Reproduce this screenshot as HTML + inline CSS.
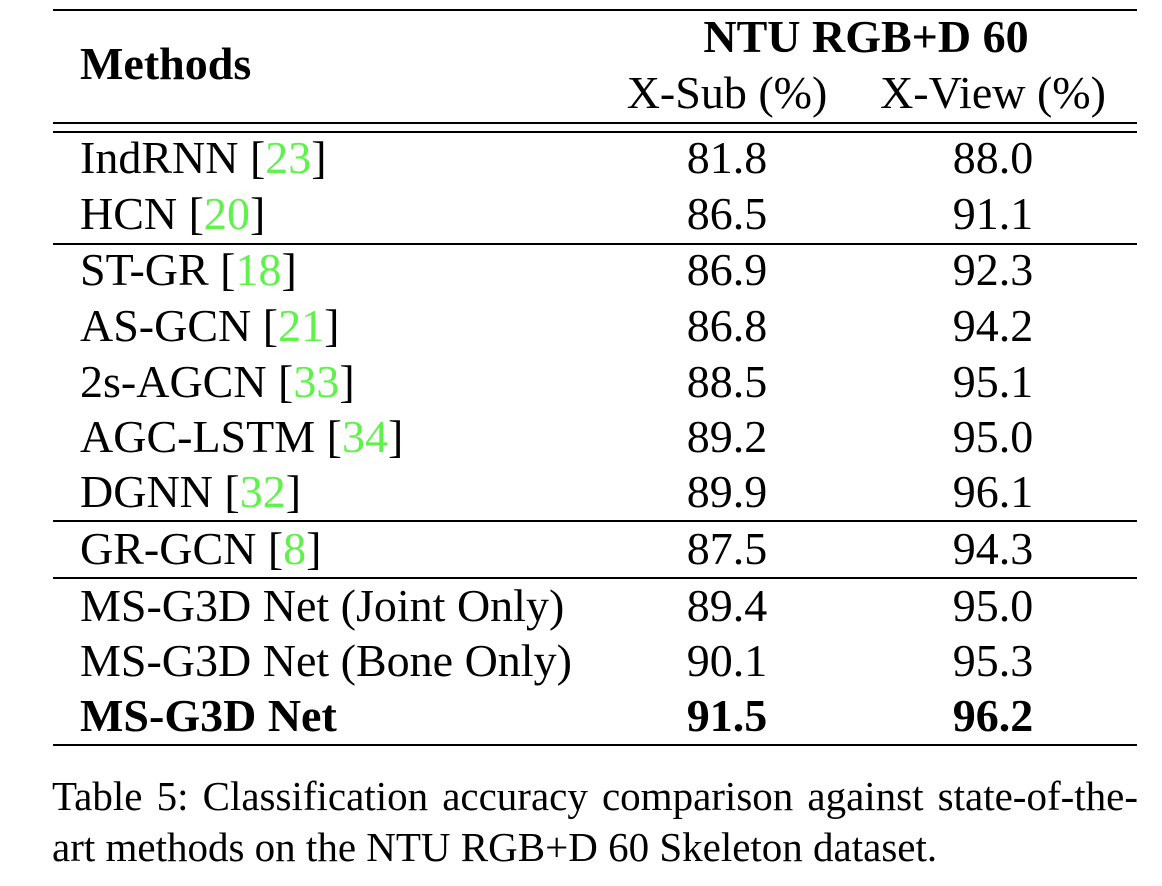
<!DOCTYPE html>
<html><head><style>
body{margin:0;background:#fff;width:1162px;height:886px;position:relative;overflow:hidden;font-family:"Liberation Serif",serif;color:#000}
.l{position:absolute;left:53px;width:1084px;background:#000}
.t{position:absolute;font-size:46px;line-height:1;white-space:nowrap}
.c{transform:translateX(-50%)}
.g{color:#5ef24a}
b{font-weight:bold}
.cap{position:absolute;left:52px;width:1086px;font-size:41px;line-height:1;white-space:nowrap}
</style></head><body>
<div class="l" style="top:9px;height:2px"></div>
<div class="l" style="top:122px;height:2px"></div>
<div class="l" style="top:131px;height:2px"></div>
<div class="l" style="top:243px;height:2px"></div>
<div class="l" style="top:520px;height:2px"></div>
<div class="l" style="top:577px;height:2px"></div>
<div class="l" style="top:744px;height:2px"></div>

<div class="t" style="left:80px;top:41px"><b>Methods</b></div>
<div class="t c" style="left:866px;top:14px"><b>NTU RGB+D 60</b></div>
<div class="t c" style="left:727px;top:70px">X-Sub (%)</div>
<div class="t c" style="left:993px;top:70px">X-View (%)</div>

<div class="t" style="left:80px;top:135px">IndRNN [<span class="g">23</span>]</div>
<div class="t c" style="left:727px;top:135px">81.8</div><div class="t c" style="left:993px;top:135px">88.0</div>
<div class="t" style="left:80px;top:191px">HCN [<span class="g">20</span>]</div>
<div class="t c" style="left:727px;top:191px">86.5</div><div class="t c" style="left:993px;top:191px">91.1</div>
<div class="t" style="left:80px;top:247px">ST-GR [<span class="g">18</span>]</div>
<div class="t c" style="left:727px;top:247px">86.9</div><div class="t c" style="left:993px;top:247px">92.3</div>
<div class="t" style="left:80px;top:303px">AS-GCN [<span class="g">21</span>]</div>
<div class="t c" style="left:727px;top:303px">86.8</div><div class="t c" style="left:993px;top:303px">94.2</div>
<div class="t" style="left:80px;top:359px">2s-AGCN [<span class="g">33</span>]</div>
<div class="t c" style="left:727px;top:359px">88.5</div><div class="t c" style="left:993px;top:359px">95.1</div>
<div class="t" style="left:80px;top:414px">AGC-LSTM [<span class="g">34</span>]</div>
<div class="t c" style="left:727px;top:414px">89.2</div><div class="t c" style="left:993px;top:414px">95.0</div>
<div class="t" style="left:80px;top:469px">DGNN [<span class="g">32</span>]</div>
<div class="t c" style="left:727px;top:469px">89.9</div><div class="t c" style="left:993px;top:469px">96.1</div>
<div class="t" style="left:80px;top:526px">GR-GCN [<span class="g">8</span>]</div>
<div class="t c" style="left:727px;top:526px">87.5</div><div class="t c" style="left:993px;top:526px">94.3</div>
<div class="t" style="left:80px;top:583px">MS-G3D Net (Joint Only)</div>
<div class="t c" style="left:727px;top:583px">89.4</div><div class="t c" style="left:993px;top:583px">95.0</div>
<div class="t" style="left:80px;top:638px">MS-G3D Net (Bone Only)</div>
<div class="t c" style="left:727px;top:638px">90.1</div><div class="t c" style="left:993px;top:638px">95.3</div>
<div class="t" style="left:80px;top:693px"><b>MS-G3D Net</b></div>
<div class="t c" style="left:727px;top:693px"><b>91.5</b></div><div class="t c" style="left:993px;top:693px"><b>96.2</b></div>

<div class="cap" style="top:776px;text-align:justify;text-align-last:justify;white-space:normal">Table 5: Classification accuracy comparison against state-of-the-</div>
<div class="cap" style="top:827px">art methods on the NTU RGB+D 60 Skeleton dataset.</div>
</body></html>
